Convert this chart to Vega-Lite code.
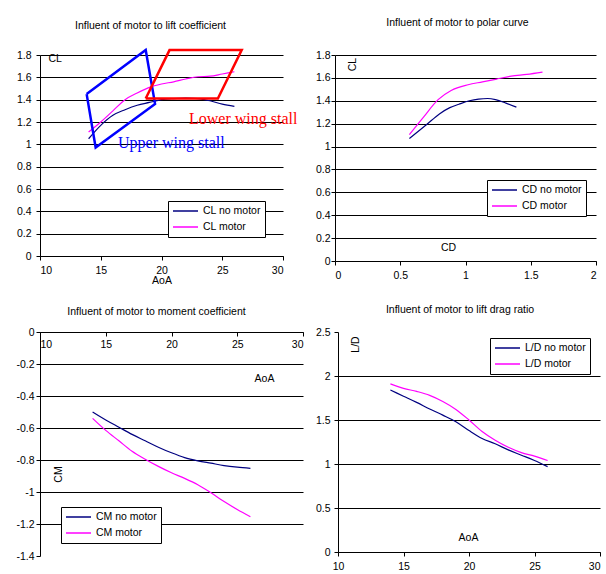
{
  "$schema": "https://vega.github.io/schema/vega-lite/v6.json",
  "padding": {"left": 15, "top": 17, "right": 0, "bottom": 0},
  "background": "white",
  "config": {
    "font": "Liberation Sans",
    "view": {"stroke": null},
    "axis": {"labelFont": "Liberation Sans", "labelFontSize": 10.5, "labelColor": "black", "labelOverlap": false, "titleFont": "Liberation Sans", "titleFontSize": 10.5, "titleFontWeight": "normal", "titleColor": "black", "domainColor": "black", "domainWidth": 1, "tickColor": "black", "tickSize": 4, "gridColor": "black", "gridOpacity": 1, "gridWidth": 1, "labelPadding": 5},
    "title": {"font": "Liberation Sans", "fontSize": 10.5, "fontWeight": "normal", "color": "black", "anchor": "middle"},
    "legend": {"orient": "none", "strokeColor": "black", "fillColor": "white", "padding": 4, "symbolType": "M-2.5,0H2.5", "symbolSize": 100, "symbolOffset": 7.5, "symbolStrokeWidth": 1.5, "labelFont": "Liberation Sans", "labelFontSize": 10.5, "labelColor": "black", "rowPadding": 4, "labelOffset": 11.5, "cornerRadius": 0}
  },
  "datasets": {
    "lift": [
      {"AoA": 14, "CL": 1.05, "series": "CL no motor"}, {"AoA": 15, "CL": 1.17, "series": "CL no motor"}, {"AoA": 16, "CL": 1.26, "series": "CL no motor"}, {"AoA": 17, "CL": 1.31, "series": "CL no motor"}, {"AoA": 18, "CL": 1.35, "series": "CL no motor"}, {"AoA": 19, "CL": 1.375, "series": "CL no motor"}, {"AoA": 20, "CL": 1.4, "series": "CL no motor"}, {"AoA": 21, "CL": 1.41, "series": "CL no motor"}, {"AoA": 22, "CL": 1.415, "series": "CL no motor"}, {"AoA": 23, "CL": 1.41, "series": "CL no motor"}, {"AoA": 24, "CL": 1.39, "series": "CL no motor"}, {"AoA": 25, "CL": 1.36, "series": "CL no motor"}, {"AoA": 26, "CL": 1.34, "series": "CL no motor"},
      {"AoA": 14, "CL": 1.11, "series": "CL motor"}, {"AoA": 15, "CL": 1.2, "series": "CL motor"}, {"AoA": 16, "CL": 1.3, "series": "CL motor"}, {"AoA": 17, "CL": 1.4, "series": "CL motor"}, {"AoA": 18, "CL": 1.46, "series": "CL motor"}, {"AoA": 19, "CL": 1.51, "series": "CL motor"}, {"AoA": 20, "CL": 1.54, "series": "CL motor"}, {"AoA": 21, "CL": 1.56, "series": "CL motor"}, {"AoA": 22, "CL": 1.585, "series": "CL motor"}, {"AoA": 23, "CL": 1.605, "series": "CL motor"}, {"AoA": 24, "CL": 1.61, "series": "CL motor"}, {"AoA": 25, "CL": 1.63, "series": "CL motor"}, {"AoA": 26, "CL": 1.65, "series": "CL motor"}
    ],
    "stall": [
      {"box": "upper", "i": 0, "AoA": 13.84, "CL": 1.45}, {"box": "upper", "i": 1, "AoA": 18.7, "CL": 1.844}, {"box": "upper", "i": 2, "AoA": 19.47, "CL": 1.362}, {"box": "upper", "i": 3, "AoA": 14.58, "CL": 0.972}, {"box": "upper", "i": 4, "AoA": 13.84, "CL": 1.45},
      {"box": "lower", "i": 0, "AoA": 18.7, "CL": 1.41}, {"box": "lower", "i": 1, "AoA": 20.66, "CL": 1.844}, {"box": "lower", "i": 2, "AoA": 26.6, "CL": 1.844}, {"box": "lower", "i": 3, "AoA": 24.64, "CL": 1.41}, {"box": "lower", "i": 4, "AoA": 18.7, "CL": 1.41}
    ],
    "notes": [
      {"box": "lower", "AoA": 22.26, "CL": 1.229, "text": "Lower wing stall"},
      {"box": "upper", "AoA": 16.42, "CL": 1.014, "text": "Upper wing stall"}
    ],
    "polar": [
      {"i": 0, "CD": 0.57, "CL": 1.07, "series": "CD no motor"}, {"i": 1, "CD": 0.7, "CL": 1.19, "series": "CD no motor"}, {"i": 2, "CD": 0.8, "CL": 1.285, "series": "CD no motor"}, {"i": 3, "CD": 0.88, "CL": 1.34, "series": "CD no motor"}, {"i": 4, "CD": 0.95, "CL": 1.37, "series": "CD no motor"}, {"i": 5, "CD": 1.03, "CL": 1.4, "series": "CD no motor"}, {"i": 6, "CD": 1.1, "CL": 1.415, "series": "CD no motor"}, {"i": 7, "CD": 1.17, "CL": 1.42, "series": "CD no motor"}, {"i": 8, "CD": 1.23, "CL": 1.41, "series": "CD no motor"}, {"i": 9, "CD": 1.31, "CL": 1.38, "series": "CD no motor"}, {"i": 10, "CD": 1.39, "CL": 1.345, "series": "CD no motor"},
      {"i": 0, "CD": 0.57, "CL": 1.105, "series": "CD motor"}, {"i": 1, "CD": 0.68, "CL": 1.26, "series": "CD motor"}, {"i": 2, "CD": 0.79, "CL": 1.41, "series": "CD motor"}, {"i": 3, "CD": 0.89, "CL": 1.49, "series": "CD motor"}, {"i": 4, "CD": 1.02, "CL": 1.54, "series": "CD motor"}, {"i": 5, "CD": 1.13, "CL": 1.565, "series": "CD motor"}, {"i": 6, "CD": 1.24, "CL": 1.59, "series": "CD motor"}, {"i": 7, "CD": 1.35, "CL": 1.615, "series": "CD motor"}, {"i": 8, "CD": 1.47, "CL": 1.63, "series": "CD motor"}, {"i": 9, "CD": 1.59, "CL": 1.65, "series": "CD motor"}
    ],
    "moment": [
      {"AoA": 14, "CM": -0.5, "series": "CM no motor"}, {"AoA": 15, "CM": -0.55, "series": "CM no motor"}, {"AoA": 16, "CM": -0.595, "series": "CM no motor"}, {"AoA": 17, "CM": -0.64, "series": "CM no motor"}, {"AoA": 18, "CM": -0.68, "series": "CM no motor"}, {"AoA": 19, "CM": -0.72, "series": "CM no motor"}, {"AoA": 20, "CM": -0.755, "series": "CM no motor"}, {"AoA": 21, "CM": -0.785, "series": "CM no motor"}, {"AoA": 22, "CM": -0.805, "series": "CM no motor"}, {"AoA": 23, "CM": -0.82, "series": "CM no motor"}, {"AoA": 24, "CM": -0.835, "series": "CM no motor"}, {"AoA": 25, "CM": -0.845, "series": "CM no motor"}, {"AoA": 26, "CM": -0.852, "series": "CM no motor"},
      {"AoA": 14, "CM": -0.54, "series": "CM motor"}, {"AoA": 15, "CM": -0.615, "series": "CM motor"}, {"AoA": 16, "CM": -0.68, "series": "CM motor"}, {"AoA": 17, "CM": -0.745, "series": "CM motor"}, {"AoA": 18, "CM": -0.795, "series": "CM motor"}, {"AoA": 19, "CM": -0.84, "series": "CM motor"}, {"AoA": 20, "CM": -0.88, "series": "CM motor"}, {"AoA": 21, "CM": -0.915, "series": "CM motor"}, {"AoA": 22, "CM": -0.955, "series": "CM motor"}, {"AoA": 23, "CM": -1.005, "series": "CM motor"}, {"AoA": 24, "CM": -1.06, "series": "CM motor"}, {"AoA": 25, "CM": -1.11, "series": "CM motor"}, {"AoA": 26, "CM": -1.155, "series": "CM motor"}
    ],
    "ld": [
      {"AoA": 14, "LD": 1.84, "series": "L/D no motor"}, {"AoA": 15, "LD": 1.77, "series": "L/D no motor"}, {"AoA": 16, "LD": 1.7, "series": "L/D no motor"}, {"AoA": 17, "LD": 1.625, "series": "L/D no motor"}, {"AoA": 18, "LD": 1.555, "series": "L/D no motor"}, {"AoA": 19, "LD": 1.48, "series": "L/D no motor"}, {"AoA": 20, "LD": 1.38, "series": "L/D no motor"}, {"AoA": 21, "LD": 1.29, "series": "L/D no motor"}, {"AoA": 22, "LD": 1.23, "series": "L/D no motor"}, {"AoA": 23, "LD": 1.16, "series": "L/D no motor"}, {"AoA": 24, "LD": 1.1, "series": "L/D no motor"}, {"AoA": 25, "LD": 1.04, "series": "L/D no motor"}, {"AoA": 26, "LD": 0.97, "series": "L/D no motor"},
      {"AoA": 14, "LD": 1.91, "series": "L/D motor"}, {"AoA": 15, "LD": 1.86, "series": "L/D motor"}, {"AoA": 16, "LD": 1.825, "series": "L/D motor"}, {"AoA": 17, "LD": 1.78, "series": "L/D motor"}, {"AoA": 18, "LD": 1.71, "series": "L/D motor"}, {"AoA": 19, "LD": 1.62, "series": "L/D motor"}, {"AoA": 20, "LD": 1.5, "series": "L/D motor"}, {"AoA": 21, "LD": 1.37, "series": "L/D motor"}, {"AoA": 22, "LD": 1.27, "series": "L/D motor"}, {"AoA": 23, "LD": 1.19, "series": "L/D motor"}, {"AoA": 24, "LD": 1.13, "series": "L/D motor"}, {"AoA": 25, "LD": 1.09, "series": "L/D motor"}, {"AoA": 26, "LD": 1.04, "series": "L/D motor"}
    ]
  },
  "resolve": {"scale": {"color": "independent"}, "legend": {"color": "independent"}},
  "spacing": 18,
  "vconcat": [
    {
      "spacing": 17,
      "resolve": {"scale": {"color": "independent"}, "legend": {"color": "independent"}},
      "hconcat": [
        {
          "width": 243, "height": 201,
          "title": {"text": "Influent of motor to lift coefficient", "dx": -11, "offset": 14},
          "encoding": {
            "x": {"field": "AoA", "type": "quantitative", "scale": {"domain": [10, 30], "nice": false, "zero": false}, "axis": {"values": [10, 15, 20, 25, 30], "title": "AoA", "titlePadding": 0, "grid": false}},
            "y": {"field": "CL", "type": "quantitative", "scale": {"domain": [0, 1.8], "nice": false}, "axis": {"values": [0, 0.2, 0.4, 0.6, 0.8, 1, 1.2, 1.4, 1.6, 1.8], "format": "~g", "title": "CL", "titleAngle": 0, "titleAlign": "left", "titleBaseline": "middle", "titleX": 8, "titleY": 3, "grid": true}}
          },
          "layer": [
            {
              "data": {"name": "lift"},
              "mark": {"type": "line", "interpolate": "monotone", "strokeWidth": 1.2},
              "encoding": {
                "color": {"field": "series", "type": "nominal", "scale": {"domain": ["CL no motor", "CL motor"], "range": ["#000080", "#FF00FF"]}, "legend": {"title": null, "legendX": 128, "legendY": 146}}
              }
            },
            {
              "data": {"name": "stall"},
              "transform": [{"filter": "datum.box == 'upper'"}],
              "mark": {"type": "line", "color": "#0000FF", "strokeWidth": 2.5},
              "encoding": {"order": {"field": "i", "type": "quantitative"}}
            },
            {
              "data": {"name": "stall"},
              "transform": [{"filter": "datum.box == 'lower'"}],
              "mark": {"type": "line", "color": "#FF0000", "strokeWidth": 2.5},
              "encoding": {"order": {"field": "i", "type": "quantitative"}}
            },
            {
              "data": {"name": "notes"},
              "transform": [{"filter": "datum.box == 'lower'"}],
              "mark": {"type": "text", "font": "Liberation Serif", "fontSize": 16, "align": "left", "baseline": "middle", "color": "#FF0000"},
              "encoding": {"text": {"field": "text"}}
            },
            {
              "data": {"name": "notes"},
              "transform": [{"filter": "datum.box == 'upper'"}],
              "mark": {"type": "text", "font": "Liberation Serif", "fontSize": 16, "align": "left", "baseline": "middle", "color": "#0000FF"},
              "encoding": {"text": {"field": "text"}}
            }
          ]
        },
        {
          "width": 261, "height": 206,
          "title": {"text": "Influent of motor to polar curve", "dx": -8, "offset": 22},
          "data": {"name": "polar"},
          "mark": {"type": "line", "interpolate": "monotone", "strokeWidth": 1.2},
          "encoding": {
            "x": {"field": "CD", "type": "quantitative", "scale": {"domain": [0, 2], "nice": false}, "axis": {"values": [0, 0.5, 1, 1.5, 2], "format": "~g", "title": "CD", "titleX": 113, "titleY": -14, "titleAlign": "center", "titleBaseline": "middle", "grid": false}},
            "y": {"field": "CL", "type": "quantitative", "scale": {"domain": [0, 1.8], "nice": false}, "axis": {"values": [0, 0.2, 0.4, 0.6, 0.8, 1, 1.2, 1.4, 1.6, 1.8], "format": "~g", "labelPadding": 1, "title": "CL", "titleAngle": 270, "titleAlign": "center", "titleBaseline": "middle", "titleX": 17, "titleY": 9, "grid": true}},
            "order": {"field": "i", "type": "quantitative"},
            "color": {"field": "series", "type": "nominal", "scale": {"domain": ["CD no motor", "CD motor"], "range": ["#000080", "#FF00FF"]}, "legend": {"title": null, "legendX": 152, "legendY": 125}}
          }
        }
      ]
    },
    {
      "spacing": 11,
      "resolve": {"scale": {"color": "independent"}, "legend": {"color": "independent"}},
      "hconcat": [
        {
          "width": 263, "height": 224,
          "title": {"text": "Influent of motor to moment coefficient", "dx": -15, "offset": 10},
          "data": {"name": "moment"},
          "mark": {"type": "line", "interpolate": "monotone", "strokeWidth": 1.2},
          "encoding": {
            "x": {"field": "AoA", "type": "quantitative", "scale": {"domain": [10, 30], "nice": false, "zero": false}, "axis": {"orient": "bottom", "offset": -224, "values": [10, 15, 20, 25, 30], "labelPadding": 3, "title": "AoA", "titleX": 224, "titleY": 46, "titleAlign": "center", "titleBaseline": "middle", "grid": false}},
            "y": {"field": "CM", "type": "quantitative", "scale": {"domain": [-1.4, 0], "nice": false}, "axis": {"values": [0, -0.2, -0.4, -0.6, -0.8, -1, -1.2, -1.4], "labelExpr": "datum.value < 0 ? '-' + format(-datum.value, '~g') : '0'", "labelPadding": 2, "title": "CM", "titleAngle": 270, "titleAlign": "center", "titleBaseline": "middle", "titleX": 18, "titleY": 142, "grid": true, "gridOpacity": {"condition": {"test": "datum.value <= -1.4", "value": 0}, "value": 1}}},
            "color": {"field": "series", "type": "nominal", "scale": {"domain": ["CM no motor", "CM motor"], "range": ["#000080", "#FF00FF"]}, "legend": {"title": null, "legendX": 21, "legendY": 175}}
          }
        },
        {
          "width": 262, "height": 220,
          "title": {"text": "Influent of motor to lift drag ratio", "dx": -9, "offset": 12},
          "data": {"name": "ld"},
          "mark": {"type": "line", "interpolate": "monotone", "strokeWidth": 1.2},
          "encoding": {
            "x": {"field": "AoA", "type": "quantitative", "scale": {"domain": [10, 30], "nice": false, "zero": false}, "axis": {"values": [10, 15, 20, 25, 30], "labelAlign": {"condition": {"test": "datum.value >= 30", "value": "right"}, "value": "center"}, "title": "AoA", "titleX": 130, "titleY": -15, "titleAlign": "center", "titleBaseline": "middle", "grid": false}},
            "y": {"field": "LD", "type": "quantitative", "scale": {"domain": [0, 2.5], "nice": false}, "axis": {"values": [0, 0.5, 1, 1.5, 2, 2.5], "format": "~g", "labelPadding": 4, "title": "L/D", "titleAngle": 270, "titleAlign": "center", "titleBaseline": "middle", "titleX": 17, "titleY": 12, "grid": true, "gridOpacity": {"condition": {"test": "datum.value >= 2.5", "value": 0}, "value": 1}}},
            "color": {"field": "series", "type": "nominal", "scale": {"domain": ["L/D no motor", "L/D motor"], "range": ["#000080", "#FF00FF"]}, "legend": {"title": null, "legendX": 152, "legendY": 6}}
          }
        }
      ]
    }
  ]
}
